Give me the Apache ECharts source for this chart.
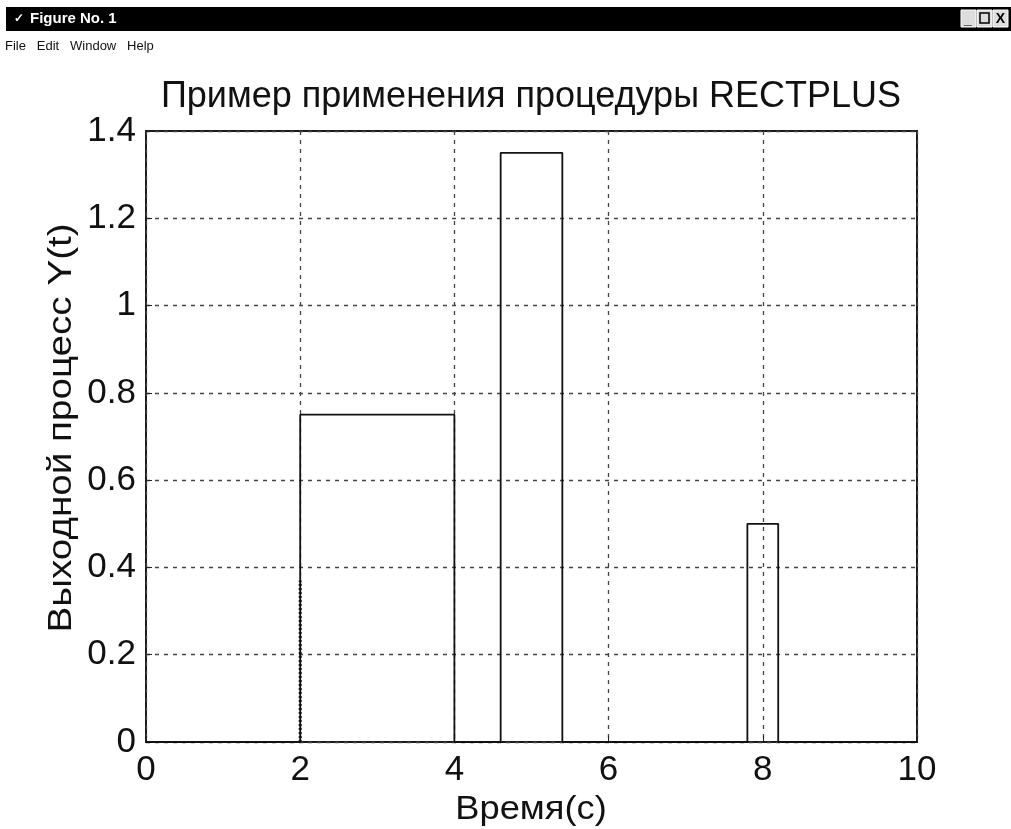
<!DOCTYPE html>
<html><head><meta charset="utf-8">
<script src="https://cdn.jsdelivr.net/npm/echarts@6/dist/echarts.min.js"></script>
<style>html,body{margin:0;padding:0;background:#fff}#c{width:1011px;height:829px}</style>
</head><body><div id="c"></div>
<script>
// Step process Y(t): breakpoints (time) and values
var times  = [0, 2, 2, 4, 4, 4.6, 4.6, 5.4, 5.4, 7.8, 7.8, 8.2, 8.2, 10];
var values = [0, 0, 0.75, 0.75, 0, 0, 1.35, 1.35, 0, 0, 0.5, 0.5, 0, 0];
// thick dotted trace at t=2
var dotTimes = [2, 2];
var dotValues = [0, 0.37];
var xTicks = [0, 2, 4, 6, 8, 10];
var yTicks = [0, 0.2, 0.4, 0.6, 0.8, 1, 1.2, 1.4];
var titleText = 'Пример применения процедуры RECTPLUS';
var xName = 'Время(с)';
var yName = 'Выходной процесс Y(t)';

var F = '"Liberation Sans", Arial, sans-serif';
var chart = echarts.init(document.getElementById('c'));
function pts(a, b){ return a.map(function(v,i){return [v, b[i]];}); }
chart.setOption({
  animation: false,
  backgroundColor: '#fff',
  grid: { left: 146, right: 94, top: 131, bottom: 87, show: true, borderColor: '#1a1a1a', borderWidth: 2, backgroundColor: 'transparent' },
  xAxis: { type: 'value', min: 0, max: 10, interval: 2,
    axisLine: { show: false }, axisTick: { show: true, inside: true, length: 6, lineStyle: { color: '#222' } },
    axisLabel: { fontFamily: F, fontSize: 35, color: '#111', margin: 11,
      formatter: function(v){ return xTicks.indexOf(v) >= 0 ? String(v) : ''; } },
    splitLine: { show: true, lineStyle: { color: '#444', type: [4, 5], width: 1.3 } } },
  yAxis: { type: 'value', min: 0, max: 1.4, interval: 0.2,
    axisLine: { show: false }, axisTick: { show: true, inside: true, length: 6, lineStyle: { color: '#222' } },
    axisLabel: { fontFamily: F, fontSize: 35, color: '#111', margin: 10,
      formatter: function(v){ var r = Math.round(v*10)/10; return yTicks.indexOf(r) >= 0 ? String(r) : ''; } },
    splitLine: { show: true, lineStyle: { color: '#444', type: [4, 5], width: 1.3 } } },
  series: [
    { type: 'line', data: pts(times, values), symbol: 'none', lineStyle: { color: '#111', width: 1.8 } },
    { type: 'line', data: pts(dotTimes, dotValues), symbol: 'none', lineStyle: { color: '#111', width: 3, type: [2, 2] } }
  ],
  graphic: [
    { type: 'rect', shape: { x: 6, y: 7, width: 1005, height: 24 }, style: { fill: '#000' } },
    { type: 'text', style: { x: 14, y: 19, text: '✓', fill: '#fff', font: 'bold 12px ' + F, verticalAlign: 'middle' } },
    { type: 'text', style: { x: 30, y: 19, text: 'Figure No. 1', fill: '#fff', font: 'bold 15px "Liberation Sans Narrow", ' + F, verticalAlign: 'middle' } },
    { type: 'rect', shape: { x: 961, y: 10, width: 15, height: 17 }, style: { fill: '#ddd', stroke: '#fff' } },
    { type: 'text', style: { x: 968, y: 20, text: '_', fill: '#000', font: 'bold 14px ' + F, align: 'center', verticalAlign: 'middle' } },
    { type: 'rect', shape: { x: 977, y: 10, width: 15, height: 17 }, style: { fill: '#ddd', stroke: '#fff' } },
    { type: 'rect', shape: { x: 980, y: 13, width: 9, height: 10 }, style: { fill: 'none', stroke: '#000', lineWidth: 1.5 } },
    { type: 'rect', shape: { x: 993, y: 10, width: 15, height: 17 }, style: { fill: '#ddd', stroke: '#fff' } },
    { type: 'text', style: { x: 1000.5, y: 19, text: 'X', fill: '#000', font: 'bold 14px ' + F, align: 'center', verticalAlign: 'middle' } },
    { type: 'text', style: { x: 5, y: 46, text: 'File   Edit   Window   Help', fill: '#111', font: '13px "Liberation Sans Narrow", ' + F, verticalAlign: 'middle' } },
    // title
    { type: 'text', x: 531, y: 97, style: { text: titleText, fill: '#111', font: '36px ' + F, align: 'center', verticalAlign: 'middle' } },
    // x axis name
    { type: 'text', x: 531, y: 810, scaleX: 1.1, style: { text: xName, fill: '#111', font: '33px ' + F, align: 'center', verticalAlign: 'middle' } },
    // y axis name
    { type: 'text', x: 62, y: 428, rotation: Math.PI / 2, scaleX: 1.17, style: { text: yName, fill: '#111', font: '33px ' + F, align: 'center', verticalAlign: 'middle' } }
  ]
});
</script></body></html>
